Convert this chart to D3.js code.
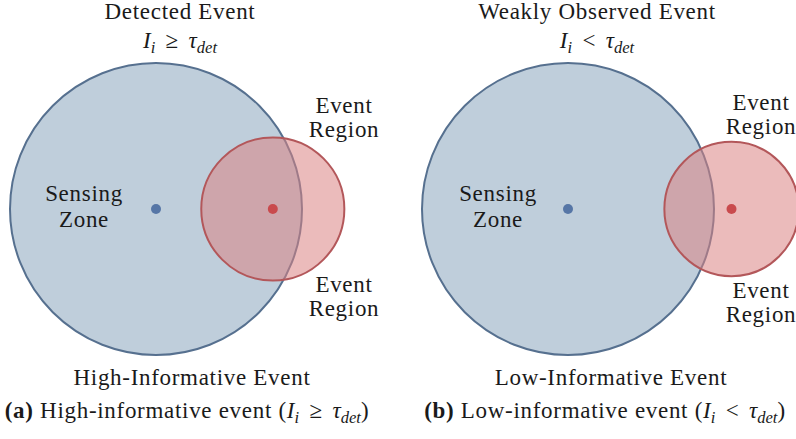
<!DOCTYPE html>
<html>
<head>
<meta charset="utf-8">
<script src="https://cdn.jsdelivr.net/npm/d3@7"></script>
<style>
  body { margin: 0; background: #fff; }
  text { font-family: "Liberation Serif", "DejaVu Serif", serif; fill: #1a1a1a; font-size: 23px; letter-spacing: 0.7px; }
  tspan.m { letter-spacing: 0; font-style: italic; }
</style>
</head>
<body>
<div id="chart"></div>
<script>
var width = 796,
    height = 439;

// scenario values, in units of the sensing radius
var panelIds = ["a", "b"];
var titles = ["Detected Event", "Weakly Observed Event"];
var relations = ["\u2265", "<"];
var footers = ["High-Informative Event", "Low-Informative Event"];
var captions = ["High-informative event", "Low-informative event"];
var sensingRadius = [1, 1];
var eventRadius = [0.49, 0.46];
var eventOffset = [0.80, 1.12];

var svg = d3.select("#chart").append("svg")
    .attr("width", width)
    .attr("height", height);

// one panel = one little coordinate system
var panelCenterX = d3.scaleOrdinal().domain(panelIds).range([156, 568]);
var centerY = 209;
var unit = 146; // pixels per sensing radius

function mathLine(sel, rel) {
  sel.append("tspan").attr("class", "m").text("I");
  sel.append("tspan").attr("class", "m").style("font-size", "0.72em").attr("dy", 5).text("i");
  sel.append("tspan").attr("dy", -5).style("letter-spacing", "0").text("\u2009 " + rel + " \u2009");
  sel.append("tspan").attr("class", "m").text("\u03C4");
  sel.append("tspan").attr("class", "m").style("font-size", "0.72em").attr("dy", 5).text("det");
}

panelIds.forEach(function (id, i) {
  var cx = panelCenterX(id);
  var x = d3.scaleLinear().domain([-1, 1]).range([cx - unit, cx + unit]);
  var y = d3.scaleLinear().domain([-1, 1]).range([centerY - unit, centerY + unit]);
  var g = svg.append("g");

  // sensing zone
  g.append("circle")
      .attr("cx", x(0))
      .attr("cy", y(0))
      .attr("r", x(sensingRadius[i]) - x(0))
      .style("fill", "#bfcedb")
      .style("stroke", "#56708f")
      .style("stroke-width", 2);

  // event region
  g.append("circle")
      .attr("cx", x(eventOffset[i]))
      .attr("cy", y(0))
      .attr("r", x(eventRadius[i]) - x(0))
      .style("fill", "#da8483")
      .style("fill-opacity", 0.55)
      .style("stroke", "#b3575a")
      .style("stroke-width", 2);

  g.append("circle")
      .attr("cx", x(0)).attr("cy", y(0)).attr("r", 5)
      .style("fill", "#5676a6");
  g.append("circle")
      .attr("cx", x(eventOffset[i])).attr("cy", y(0)).attr("r", 5)
      .style("fill", "#c94a4d");

  // labels
  var titleX = [180, 597][i];
  svg.append("text")
      .attr("x", titleX).attr("y", 19)
      .style("text-anchor", "middle")
      .text(titles[i]);
  svg.append("text")
      .attr("x", titleX).attr("y", 48)
      .style("text-anchor", "middle")
      .call(mathLine, relations[i]);

  var sx = [84, 498][i];
  svg.append("text")
      .attr("x", sx).attr("y", 201)
      .style("text-anchor", "middle")
      .text("Sensing");
  svg.append("text")
      .attr("x", sx).attr("y", 227)
      .style("text-anchor", "middle")
      .text("Zone");

  var ex = [344, 761][i];
  var eTop = [113, 110][i], eBot = [292, 298][i];
  [eTop, eBot].forEach(function (yy) {
    svg.append("text")
        .attr("x", ex).attr("y", yy)
        .style("text-anchor", "middle")
        .text("Event");
    svg.append("text")
        .attr("x", ex).attr("y", yy + 24)
        .style("text-anchor", "middle")
        .text("Region");
  });

  svg.append("text")
      .attr("x", [192, 611][i]).attr("y", 385)
      .style("text-anchor", "middle")
      .text(footers[i]);

  var cap = svg.append("text")
      .attr("x", [187, 605][i]).attr("y", 418)
      .style("text-anchor", "middle");
  cap.append("tspan").style("font-weight", "bold").text("(" + id + ")");
  cap.append("tspan").text(" " + captions[i] + " (");
  mathLine(cap, relations[i]);
  cap.append("tspan").attr("dy", -5).text(")");
});
</script>
</body>
</html>
